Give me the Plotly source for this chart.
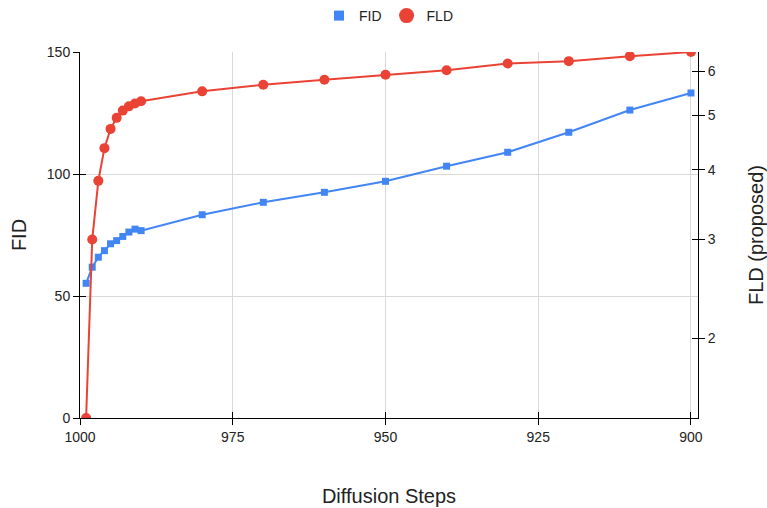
import math
import plotly.graph_objects as go

# ---- data ----
steps = [999, 998, 997, 996, 995, 994, 993, 992, 991, 990,
         980, 970, 960, 950, 940, 930, 920, 910, 900]
fid = [55.2, 61.8, 65.9, 68.6, 71.4, 72.7, 74.4, 76.2, 77.4, 76.8,
       83.3, 88.4, 92.5, 97.0, 103.2, 108.9, 117.1, 126.2, 133.2]
fld = [1.44, 3.00, 3.82, 4.37, 4.73, 4.95, 5.10, 5.19, 5.25, 5.30,
       5.52, 5.67, 5.79, 5.91, 6.02, 6.19, 6.25, 6.38, 6.49]

x_ticks = [1000, 975, 950, 925, 900]
fid_ticks = [0, 50, 100, 150]
fld_ticks = [2, 3, 4, 5, 6]

BLUE = "#4285F4"
RED = "#EA4335"
FONT = "Liberation Sans, Arial, sans-serif"
TXT = "#222222"

x_range = [1000, 898.85]
fid_range = [0, 150]
fld_range = [math.log10(min(fld)), math.log10(max(fld))]

fig = go.Figure()

fig.add_trace(go.Scatter(x=steps, y=fid, mode="lines+markers", name="FID",
                         line=dict(color=BLUE, width=2),
                         marker=dict(symbol="square", size=7, color=BLUE),
                         showlegend=False, yaxis="y"))
fig.add_trace(go.Scatter(x=steps, y=fld, mode="lines+markers", name="FLD",
                         line=dict(color=RED, width=2),
                         marker=dict(symbol="circle", size=10, color=RED),
                         showlegend=False, yaxis="y2"))

# legend entries (marker only)
fig.add_trace(go.Scatter(x=[None], y=[None], mode="markers", name="FID",
                         marker=dict(symbol="square", size=10, color=BLUE)))
fig.add_trace(go.Scatter(x=[None], y=[None], mode="markers", name="FLD",
                         marker=dict(symbol="circle", size=15, color=RED), yaxis="y2"))

# dummy traces for overlay axes that give crossing ticks
fig.add_trace(go.Scatter(x=[None], y=[None], xaxis="x2", yaxis="y3",
                         showlegend=False, hoverinfo="skip"))
fig.add_trace(go.Scatter(x=[None], y=[None], xaxis="x", yaxis="y4",
                         showlegend=False, hoverinfo="skip"))

tickfont = dict(family=FONT, size=14, color=TXT)

fig.update_layout(
    width=767, height=508,
    margin=dict(l=80, r=69, t=52, b=90),
    paper_bgcolor="white", plot_bgcolor="white",
    font=dict(family=FONT, color=TXT),
    legend=dict(orientation="h", x=0.5, xanchor="center",
                yref="container", y=1 - 16 / 508, yanchor="middle",
                font=dict(family=FONT, size=14, color=TXT), itemsizing="trace",
                bgcolor="rgba(0,0,0,0)"),
    xaxis=dict(range=x_range, autorange=False, tickvals=x_ticks,
               ticktext=[str(v) for v in x_ticks], automargin=False,
               showgrid=True, gridcolor="#d9d9d9", gridwidth=1,
               showline=True, linecolor="black", linewidth=1,
               ticks="outside", ticklen=6, tickcolor="black",
               tickfont=tickfont, zeroline=False,
               title=dict(text="Diffusion Steps", font=dict(family=FONT, size=20, color=TXT),
                          standoff=45)),
    xaxis2=dict(overlaying="x", anchor="y", range=x_range, autorange=False,
                tickvals=x_ticks, showticklabels=False, showgrid=False,
                showline=False, zeroline=False, ticks="inside", ticklen=6,
                tickcolor="black", automargin=False),
    yaxis=dict(range=fid_range, autorange=False, tickvals=fid_ticks,
               showgrid=True, gridcolor="#d9d9d9", gridwidth=1, automargin=False,
               showline=True, linecolor="black", linewidth=1,
               ticks="outside", ticklen=6, tickcolor="black",
               tickfont=tickfont, zeroline=False,
               title=dict(text="FID", font=dict(family=FONT, size=20, color=TXT),
                          standoff=14)),
    yaxis2=dict(type="log", overlaying="y", side="right", anchor="x",
                range=fld_range, autorange=False, tickvals=fld_ticks,
                ticktext=[str(v) for v in fld_ticks], automargin=False,
                showgrid=False, showline=True, linecolor="black", linewidth=1,
                ticks="outside", ticklen=6, tickcolor="black",
                tickfont=tickfont, zeroline=False,
                title=dict(text="FLD (proposed)", font=dict(family=FONT, size=20, color=TXT),
                           standoff=40)),
    yaxis3=dict(overlaying="y", side="left", anchor="x", range=fid_range,
                autorange=False, tickvals=fid_ticks, showticklabels=False,
                showgrid=False, showline=False, zeroline=False, automargin=False,
                ticks="inside", ticklen=6, tickcolor="black"),
    yaxis4=dict(type="log", overlaying="y", side="right", anchor="x",
                range=fld_range, autorange=False, tickvals=fld_ticks,
                showticklabels=False, showgrid=False, showline=False, automargin=False,
                zeroline=False, ticks="inside", ticklen=6, tickcolor="black"),
)

fig.write_html("out.html")
